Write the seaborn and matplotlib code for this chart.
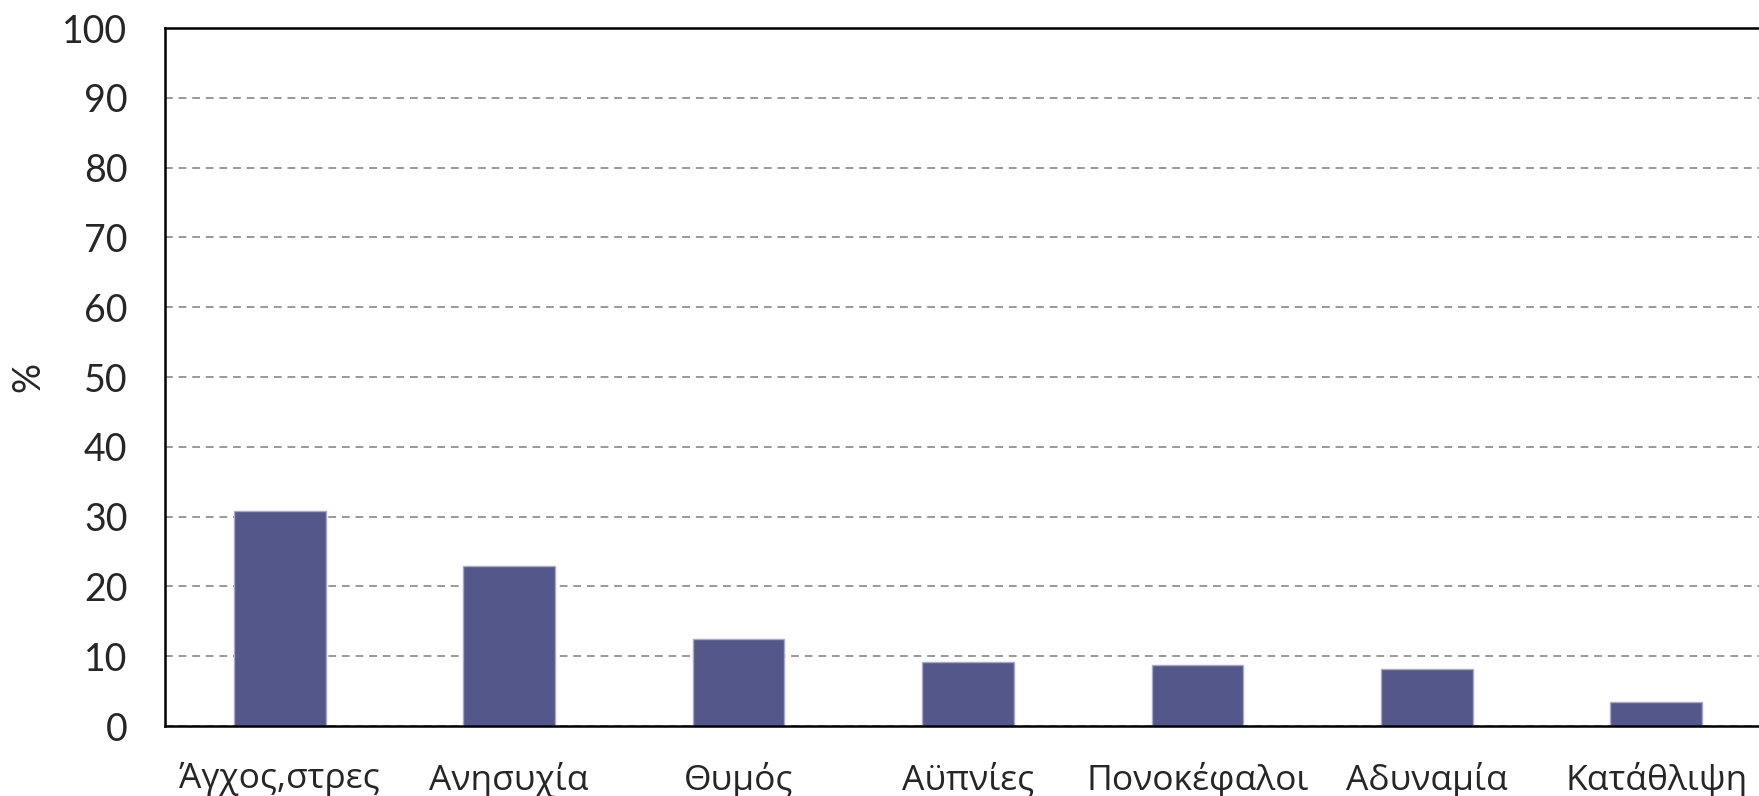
import pandas as pd
import matplotlib.pyplot as plt
import seaborn as sns

# Data
symptoms = ['Άγχος,στρες', 'Ανησυχία', 'Θυμός', 'Αϋπνίες',
            'Πονοκέφαλοι', 'Αδυναμία', 'Κατάθλιψη']
percent = [30.8, 22.9, 12.5, 9.2, 8.8, 8.1, 3.5]

df = pd.DataFrame({'Symptom': symptoms, 'Percent': percent})

sns.set_style("white")
plt.rcParams['font.family'] = ['Lato', 'Open Sans', 'DejaVu Sans']

fig = plt.figure(figsize=(17.59, 7.96), dpi=100)
ax = fig.add_axes([0.0938, 0.0879, 0.9130, 0.8769])

sns.barplot(x='Symptom', y='Percent', data=df, color='#545789',
            saturation=1, width=0.4, edgecolor='#a6a8d0', linewidth=1, ax=ax)

ax.set_ylim(0, 100)
ax.set_xlim(-0.5, len(symptoms) - 0.5)
ax.set_yticks(range(0, 101, 10))
ax.set_yticklabels([str(v) for v in range(0, 101, 10)], fontsize=27)
ax.yaxis.grid(True, linestyle=(0, (4, 3)), color='#999999', linewidth=1.4)
ax.set_axisbelow(True)

# category boundaries as major ticks, names as minor ticks
ax.set_xticks([i - 0.5 for i in range(len(symptoms) + 1)])
ax.set_xticklabels([])
ax.set_xticks(range(len(symptoms)), minor=True)
ax.set_xticklabels(symptoms, minor=True, fontfamily=['Open Sans'], fontsize=25.5)
ax.tick_params(axis='x', which='major', direction='out', length=9, width=1.5, color='black')
ax.tick_params(axis='x', which='minor', length=0, pad=26)
ax.tick_params(axis='y', direction='out', length=9, width=1.5, color='black', pad=18)

for side in ['left', 'bottom', 'top']:
    ax.spines[side].set_color('black')
    ax.spines[side].set_linewidth(1.8)
ax.spines['right'].set_visible(False)

ax.set_xlabel('')
ax.set_ylabel('%', fontsize=27)
ax.yaxis.set_label_coords(-0.074, 0.5)

fig.savefig('out.png', dpi=100)
